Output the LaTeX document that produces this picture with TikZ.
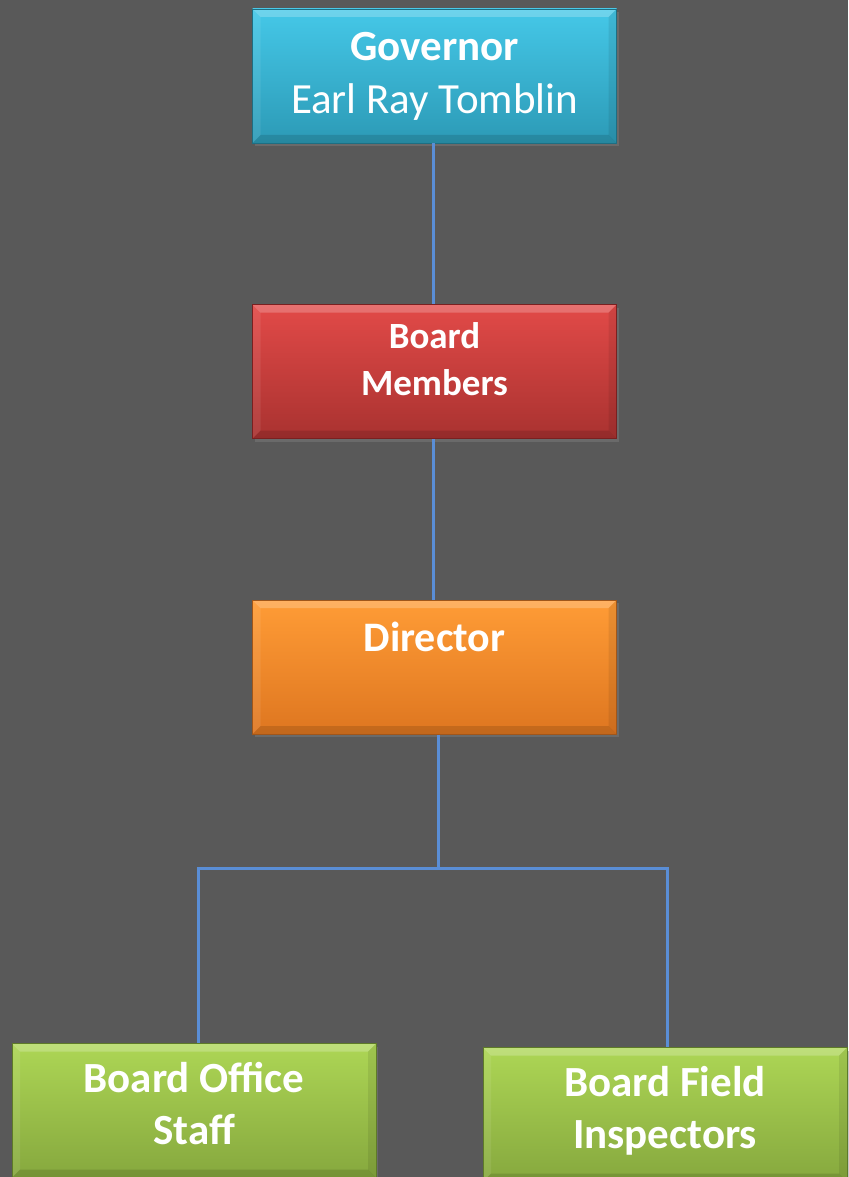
\documentclass[tikz,border=0pt]{standalone}
\usepackage{fontspec}
\setmainfont{Carlito}
\usetikzlibrary{positioning,shadows}

\definecolor{bggrey}{HTML}{595959}
\definecolor{linkblue}{HTML}{5A8ED6}
\definecolor{govtop}{HTML}{45C8E8}
\definecolor{govbot}{HTML}{2C9AB6}
\definecolor{govedge}{HTML}{1E6E82}
\definecolor{bmtop}{HTML}{E24A48}
\definecolor{bmbot}{HTML}{A93230}
\definecolor{bmedge}{HTML}{7A2020}
\definecolor{dirtop}{HTML}{FF9C36}
\definecolor{dirbot}{HTML}{DE7620}
\definecolor{diredge}{HTML}{A0561A}
\definecolor{stafftop}{HTML}{ADD655}
\definecolor{staffbot}{HTML}{86A83E}
\definecolor{staffedge}{HTML}{5E7A28}

\tikzset{
  orgbox/.style={rectangle, minimum width=364pt, minimum height=134pt,
    inner sep=0pt, align=center, text=white, line width=0.6pt,
    drop shadow={opacity=0.45, shadow xshift=2pt, shadow yshift=-3pt},
    path picture={
      \fill[white, opacity=0.22] (path picture bounding box.north west)
        -- (path picture bounding box.north east)
        -- ([xshift=-8pt, yshift=-8pt]path picture bounding box.north east)
        -- ([xshift=8pt, yshift=-8pt]path picture bounding box.north west) -- cycle;
      \fill[white, opacity=0.08] (path picture bounding box.north west)
        -- ([xshift=8pt, yshift=-8pt]path picture bounding box.north west)
        -- ([xshift=8pt, yshift=8pt]path picture bounding box.south west)
        -- (path picture bounding box.south west) -- cycle;
      \fill[black, opacity=0.08] (path picture bounding box.north east)
        -- ([xshift=-8pt, yshift=-8pt]path picture bounding box.north east)
        -- ([xshift=-8pt, yshift=8pt]path picture bounding box.south east)
        -- (path picture bounding box.south east) -- cycle;
      \fill[black, opacity=0.12] (path picture bounding box.south west)
        -- (path picture bounding box.south east)
        -- ([xshift=-8pt, yshift=8pt]path picture bounding box.south east)
        -- ([xshift=8pt, yshift=8pt]path picture bounding box.south west) -- cycle;
    }},
  govbox/.style={orgbox, top color=govtop, bottom color=govbot, draw=govedge,
    font=\fontsize{43}{53}\selectfont},
  boardbox/.style={orgbox, top color=bmtop, bottom color=bmbot, draw=bmedge,
    text depth=25pt, font=\fontsize{37}{47}\selectfont\bfseries},
  dirbox/.style={orgbox, top color=dirtop, bottom color=dirbot, draw=diredge,
    text depth=7pt, font=\fontsize{42}{53}\selectfont\bfseries},
  staffbox/.style={orgbox, top color=stafftop, bottom color=staffbot, draw=staffedge,
    text depth=14pt, font=\fontsize{43}{52}\selectfont\bfseries},
  link/.style={draw=linkblue, line width=3pt}
}

\begin{document}
\begin{tikzpicture}[x=1pt, y=-1pt]

  \useasboundingbox (0,0) rectangle (848,1177);
  \fill[bggrey] (0,0) rectangle (848,1177);

  % Define nodes
  \node[govbox]                       (gov)   at (434.5,76) {{\bfseries Governor}\\Earl Ray Tomblin};
  \node[boardbox, below=161pt of gov] (board) {Board\\Members};
  \node[dirbox, below=161pt of board] (dir)   {Director\\\phantom{D}};
  \node[staffbox]                     (staff) at (194,1110.5) {Board Office\\Staff};
  \node[staffbox]                     (insp)  at (665,1114.5) {Board Field\\Inspectors};

  % Connect the nodes
  \draw[link] ([xshift=-1.5pt]gov.south) -- ([xshift=-1.5pt]board.north);
  \draw[link] ([xshift=-1.5pt]board.south) -- ([xshift=-1.5pt]dir.north);
  \draw[link] ([xshift=3.5pt]dir.south) -- ++(0,134) coordinate (split);
  \draw[link] ([xshift=4pt]staff.north) |- (split) -| ([xshift=2pt]insp.north);

\end{tikzpicture}
\end{document}
